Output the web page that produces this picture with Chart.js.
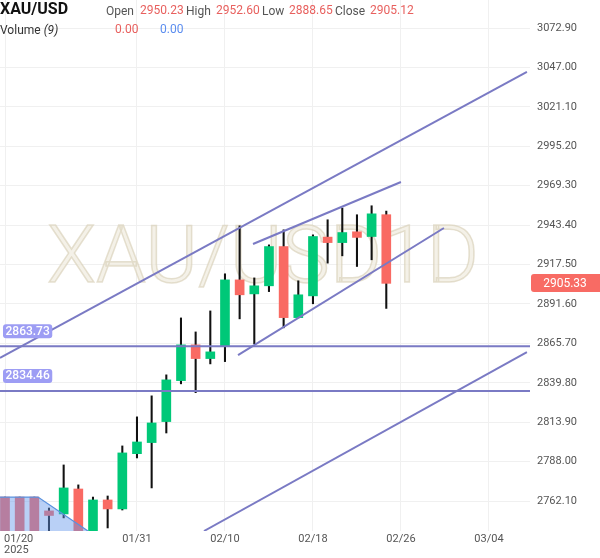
<!DOCTYPE html>
<html>
<head>
<meta charset="utf-8">
<script src="https://cdn.jsdelivr.net/npm/chart.js@4.4.1/dist/chart.umd.min.js"></script>
<style>
  html, body { margin: 0; padding: 0; background: #fff; }
  #wrap { position: relative; width: 600px; height: 558px; font-family: Roboto, 'Noto Sans', sans-serif; }
  #c { position: absolute; left: 0; top: 0; }
  .t { position: absolute; white-space: nowrap; font-size: 12px; line-height: 14px; }
  .lbl { color: #555; }
  .dn { color: #e8605e; }
  .up { color: #5b8def; }
</style>
</head>
<body>
<div id="wrap">
  <canvas id="c" width="600" height="558"></canvas>
  <span class="t" style="left:0;top:0;font-size:16px;line-height:18px;font-weight:700;color:#111;">XAU/USD</span>
  <span class="t lbl" style="left:106px;top:4px;">Open</span>
  <span class="t dn" style="left:140px;top:3px;">2950.23</span>
  <span class="t lbl" style="left:186px;top:4px;">High</span>
  <span class="t dn" style="left:216px;top:3px;">2952.60</span>
  <span class="t lbl" style="left:262px;top:4px;">Low</span>
  <span class="t dn" style="left:289px;top:3px;">2888.65</span>
  <span class="t lbl" style="left:335px;top:4px;">Close</span>
  <span class="t dn" style="left:370px;top:3px;">2905.12</span>
  <span class="t" style="left:0;top:23px;color:#333;">Volume <i>(9)</i></span>
  <span class="t dn" style="left:115px;top:22px;">0.00</span>
  <span class="t up" style="left:160px;top:22px;">0.00</span>
</div>
<script>
// daily candles, 01/20 .. 02/25
const dates = ['01/20', '01/21', '01/22', '01/23', '01/24', '01/27', '01/28', '01/29', '01/30', '01/31',
  '02/03', '02/04', '02/05', '02/06', '02/07', '02/10', '02/11', '02/12', '02/13', '02/14',
  '02/17', '02/18', '02/19', '02/20', '02/21', '02/24', '02/25'];
const opens = [2764.7, 2764.7, 2764.7, 2755.6, 2753.6, 2770.0, 2739.8, 2762.8, 2756.9, 2793.2,
  2800.5, 2814.3, 2841.2, 2864.7, 2855.7, 2863.6, 2907.4, 2898.2, 2903.5, 2929.3,
  2882.6, 2896.9, 2935.5, 2931.9, 2939.0, 2935.9, 2950.23];
const highs = [2764.7, 2764.7, 2764.7, 2757.5, 2785.8, 2772.7, 2764.7, 2765.4, 2798.3, 2817.4,
  2831.2, 2845.0, 2882.4, 2873.2, 2887.0, 2911.4, 2942.9, 2908.7, 2930.4, 2940.3,
  2906.8, 2937.0, 2946.9, 2954.6, 2950.2, 2956.1, 2952.60];
const lows = [2730.0, 2730.0, 2730.0, 2738.0, 2751.0, 2730.0, 2736.0, 2744.4, 2756.2, 2790.4,
  2770.7, 2806.8, 2839.1, 2833.3, 2852.2, 2853.7, 2881.8, 2865.4, 2899.7, 2875.9,
  2882.4, 2891.7, 2918.4, 2923.2, 2916.2, 2920.6, 2888.65];
const closes = [2730.0, 2730.0, 2730.0, 2752.6, 2770.7, 2739.8, 2762.8, 2756.9, 2793.7, 2800.9,
  2813.4, 2841.7, 2864.7, 2855.7, 2860.1, 2907.4, 2897.6, 2903.5, 2929.3, 2882.6,
  2897.6, 2935.9, 2931.9, 2938.5, 2935.3, 2950.8, 2905.12];

const lastPrice = 2905.33;
const priceTicks = [2762.10, 2788.00, 2813.90, 2839.80, 2865.70, 2891.60, 2917.50,
  2943.40, 2969.30, 2995.20, 3021.10, 3047.00, 3072.90];
const dateTickIdx = [0, 9, 15, 21, 27, 33];
const dateTickLabels = ['01/20', '01/31', '02/10', '02/18', '02/26', '03/04'];

// drawings: [barIndex, price] endpoints
const trendLines = [
  [[-0.34, 2856.1], [35.59, 3044.0]],
  [[16.91, 2931.0], [27.0, 2971.7]],
  [[15.89, 2858.0], [29.93, 2941.5]],
  [[13.57, 2742.4], [35.59, 2860.0]],
];
const levels = [2863.73, 2834.46];
const shadeArea = [[-0.34, 2764.7], [2.25, 2764.7], [5.66, 2742.4]];

const X_MIN = -0.341, X_MAX = 35.8;
const Y_MIN = 2742.4, Y_MAX = 3091.3;

const UP = '#00c878';
const DOWN = '#f96a63';
const LINE = '#7a7ac4';

const candleColor = opens.map((o, i) => (closes[i] >= o ? UP : DOWN));

const datasets = [
  {
    type: 'bar',
    data: dates.map((d, i) => ({ x: i, y: [lows[i], highs[i]] })),
    backgroundColor: '#111',
    barThickness: 1.4,
    grouped: false,
    order: 6,
  },
  {
    type: 'bar',
    data: dates.map((d, i) => ({ x: i, y: [opens[i], closes[i]] })),
    backgroundColor: candleColor,
    barThickness: 9,
    grouped: false,
    order: 5,
  },
];

trendLines.forEach(([a, b]) => {
  datasets.push({
    type: 'line',
    data: [{ x: a[0], y: a[1] }, { x: b[0], y: b[1] }],
    borderColor: LINE,
    borderWidth: 2,
    pointRadius: 0,
    order: 3,
  });
});

levels.forEach((lv) => {
  datasets.push({
    type: 'line',
    data: [{ x: X_MIN, y: lv }, { x: X_MAX, y: lv }],
    borderColor: LINE,
    borderWidth: 2,
    pointRadius: 0,
    order: 3,
  });
});

datasets.push({
  type: 'line',
  data: shadeArea.map(([x, y]) => ({ x, y })),
  borderColor: '#5a92df',
  borderWidth: 1.3,
  backgroundColor: 'rgba(100,150,235,0.45)',
  fill: 'start',
  pointRadius: 0,
  order: 1,
});

const watermark = {
  id: 'watermark',
  beforeDatasetsDraw(chart) {
    const { ctx } = chart;
    ctx.save();
    ctx.font = '300 80px Roboto';
    ctx.textAlign = 'center';
    ctx.textBaseline = 'middle';
    const cx = 263, cy = 262;
    ctx.fillStyle = 'rgba(240,236,224,0.75)';
    ctx.fillText('XAU/USD1D', cx, cy);
    ctx.lineWidth = 1.5;
    ctx.strokeStyle = 'rgba(214,205,180,0.6)';
    ctx.strokeText('XAU/USD1D', cx, cy);
    ctx.restore();
  },
};

function roundRect(ctx, x, y, w, h, r) {
  ctx.beginPath();
  ctx.moveTo(x + r, y);
  ctx.lineTo(x + w - r, y);
  ctx.quadraticCurveTo(x + w, y, x + w, y + r);
  ctx.lineTo(x + w, y + h - r);
  ctx.quadraticCurveTo(x + w, y + h, x + w - r, y + h);
  ctx.lineTo(x + r, y + h);
  ctx.quadraticCurveTo(x, y + h, x, y + h - r);
  ctx.lineTo(x, y + r);
  ctx.quadraticCurveTo(x, y, x + r, y);
  ctx.closePath();
}

const overlay = {
  id: 'overlay',
  afterDraw(chart) {
    const { ctx, chartArea } = chart;
    const xs = chart.scales.x, ys = chart.scales.y;
    ctx.save();

    // date labels
    ctx.font = '11px Roboto';
    ctx.fillStyle = '#555';
    ctx.textBaseline = 'middle';
    dateTickIdx.forEach((idx, i) => {
      const px = xs.getPixelForValue(idx);
      if (i === 0) {
        ctx.textAlign = 'left';
        ctx.fillText(dateTickLabels[i], 4, chartArea.bottom + 8);
        ctx.fillText('2025', 4, chartArea.bottom + 19);
      } else {
        ctx.textAlign = 'center';
        ctx.fillText(dateTickLabels[i], px, chartArea.bottom + 8);
      }
    });

    // level tags on the left
    ctx.font = '500 12px Roboto';
    ctx.textAlign = 'left';
    levels.forEach((lv) => {
      const py = ys.getPixelForValue(lv);
      const txt = lv.toFixed(2);
      const w = ctx.measureText(txt).width + 5;
      ctx.fillStyle = '#9d9df4';
      roundRect(ctx, 3, py - 22, w, 14, 3);
      ctx.fill();
      ctx.fillStyle = '#fff';
      ctx.fillText(txt, 5.5, py - 14.5);
    });

    // last price tag
    const py = ys.getPixelForValue(lastPrice);
    ctx.fillStyle = '#f86b64';
    roundRect(ctx, chartArea.right + 1, py - 9, 600 - chartArea.right + 3, 18, 3);
    ctx.fill();
    ctx.fillStyle = '#fff';
    ctx.font = '12px Roboto';
    ctx.textAlign = 'center';
    ctx.fillText(lastPrice.toFixed(2), chartArea.right + 35, py + 0.5);

    ctx.restore();
  },
};

new Chart(document.getElementById('c'), {
  type: 'bar',
  data: { datasets },
  options: {
    responsive: false,
    animation: false,
    devicePixelRatio: 1,
    layout: { padding: 0 },
    plugins: { legend: { display: false }, tooltip: { enabled: false } },
    scales: {
      x: {
        type: 'linear',
        min: X_MIN,
        max: X_MAX,
        offset: false,
        grid: { color: '#f0f0f0', drawTicks: false, offset: false },
        border: { display: false },
        ticks: { display: false },
        afterBuildTicks: (s) => { s.ticks = dateTickIdx.map((v) => ({ value: v })); },
        afterFit: (s) => { s.height = 27; s.paddingLeft = 0; s.paddingRight = 0; },
      },
      y: {
        position: 'right',
        min: Y_MIN,
        max: Y_MAX,
        grid: { color: '#f0f0f0', drawTicks: false },
        border: { display: false },
        ticks: {
          padding: 7,
          color: '#555',
          font: { family: 'Roboto', size: 11 },
          callback: (v) => Number(v).toFixed(2),
        },
        afterBuildTicks: (s) => { s.ticks = priceTicks.map((v) => ({ value: v })); },
        afterFit: (s) => { s.width = 70; s.paddingTop = 0; s.paddingBottom = 0; },
      },
    },
  },
  plugins: [watermark, overlay],
});
</script>
</body>
</html>
